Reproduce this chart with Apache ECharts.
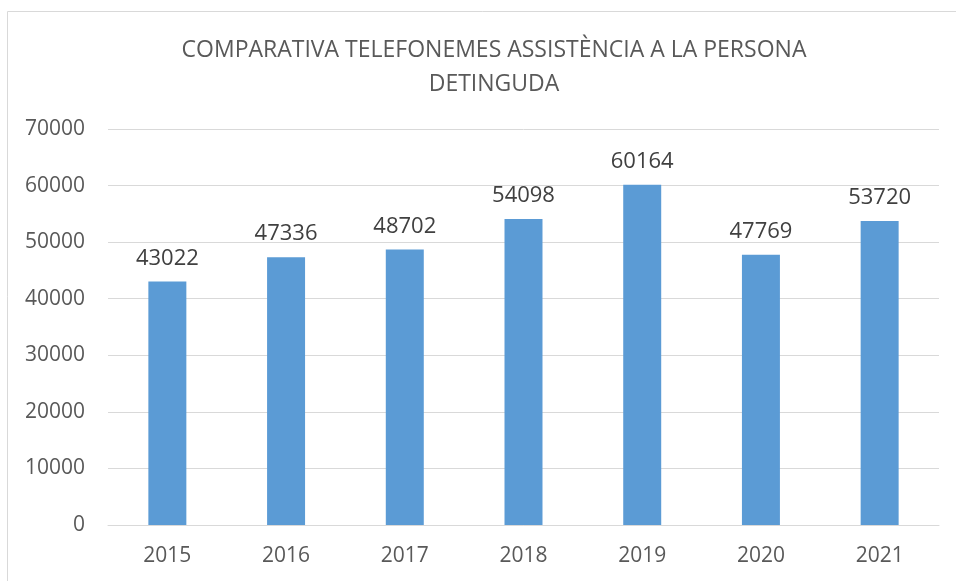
<!DOCTYPE html>
<html>
<head>
<meta charset="utf-8">
<style>
  html, body { margin: 0; padding: 0; background: #fff; }
  #chart { width: 956px; height: 581px; }
</style>
<script src="https://cdn.jsdelivr.net/npm/echarts@6/dist/echarts.min.js"></script>
</head>
<body>
<div id="chart"></div>
<script>
const years = ['2015', '2016', '2017', '2018', '2019', '2020', '2021']
const calls = [43022, 47336, 48702, 54098, 60164, 47769, 53720]
const titleText = 'COMPARATIVA TELEFONEMES ASSISTÈNCIA A LA PERSONA\nDETINGUDA'

const font = 'Open Sans, sans-serif'
const chart = echarts.init(document.getElementById('chart'))

chart.setOption({
  animation: false,
  graphic: [{
    type: 'rect',
    shape: { x: 7.5, y: 11.5, width: 1200, height: 1000 },
    style: { fill: 'none', stroke: '#d9d9d9', lineWidth: 1 },
    silent: true
  }],
  title: {
    text: titleText,
    left: 489,
    textAlign: 'center',
    top: 28,
    textStyle: {
      fontFamily: font,
      fontSize: 23,
      fontWeight: 'normal',
      color: '#595959',
      lineHeight: 34
    }
  },
  grid: {
    left: 108,
    right: 17,
    top: 129,
    bottom: 56
  },
  xAxis: {
    type: 'category',
    data: years,
    axisLine: { lineStyle: { color: '#d9d9d9', width: 1 } },
    axisTick: { show: false },
    axisLabel: {
      fontFamily: font,
      fontSize: 21,
      color: '#595959',
      margin: 21
    }
  },
  yAxis: {
    type: 'value',
    min: 0,
    max: 70000,
    interval: 10000,
    axisLine: { show: false },
    axisTick: { show: false },
    splitLine: { lineStyle: { color: '#d9d9d9', width: 1 } },
    axisLabel: {
      fontFamily: font,
      fontSize: 21,
      color: '#595959',
      margin: 23,
      formatter: v => String(v)
    }
  },
  series: [{
    type: 'bar',
    data: calls,
    barWidth: '32%',
    itemStyle: { color: '#5b9bd5' },
    label: {
      show: true,
      position: 'top',
      distance: 12,
      fontFamily: font,
      fontSize: 22,
      color: '#404040'
    }
  }]
})
</script>
</body>
</html>
